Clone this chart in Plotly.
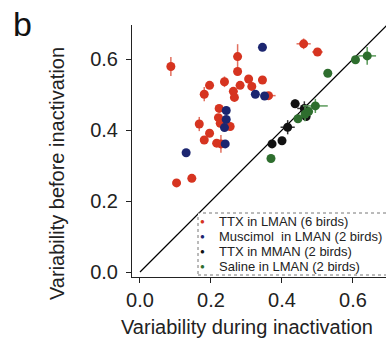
import plotly.graph_objects as go

# ---- data ----
red_x = [0.087, 0.103, 0.146, 0.167, 0.181, 0.181, 0.196, 0.196, 0.221, 0.223, 0.226, 0.216, 0.228,
         0.238, 0.254, 0.263, 0.266, 0.275, 0.275, 0.282, 0.306, 0.315, 0.345, 0.362, 0.461, 0.500]
red_y = [0.579, 0.251, 0.264, 0.417, 0.372, 0.501, 0.526, 0.391, 0.435, 0.461, 0.419, 0.363, 0.361,
         0.536, 0.410, 0.509, 0.492, 0.607, 0.565, 0.526, 0.544, 0.523, 0.541, 0.497, 0.643, 0.620]
red_ex = [0.005, 0, 0, 0, 0, 0, 0, 0, 0, 0, 0, 0, 0, 0, 0, 0, 0, 0, 0, 0, 0, 0, 0, 0.02, 0.02, 0.015]
red_ey = [0.027, 0, 0, 0.02, 0, 0.02, 0, 0, 0, 0, 0, 0, 0.025, 0.015, 0, 0, 0, 0.035, 0, 0, 0, 0, 0, 0, 0.015, 0]

blue_x = [0.130, 0.243, 0.243, 0.238, 0.240, 0.345, 0.325, 0.351]
blue_y = [0.336, 0.455, 0.430, 0.407, 0.361, 0.633, 0.501, 0.496]

black_x = [0.372, 0.400, 0.416, 0.437, 0.463, 0.468]
black_y = [0.361, 0.370, 0.408, 0.474, 0.461, 0.438]
black_ex = [0, 0, 0.02, 0.012, 0.02, 0]
black_ey = [0, 0, 0.02, 0.012, 0.02, 0]

green_x = [0.369, 0.445, 0.465, 0.475, 0.494, 0.529, 0.607, 0.640]
green_y = [0.320, 0.432, 0.445, 0.452, 0.468, 0.560, 0.598, 0.609]
green_ex = [0, 0, 0, 0, 0.035, 0, 0, 0.025]
green_ey = [0, 0, 0.02, 0, 0.02, 0, 0, 0.025]

diag = [0.0, 0.8]
tick_vals = [0.0, 0.2, 0.4, 0.6]
tick_text = ["0.0", "0.2", "0.4", "0.6"]
series_names = ["TTX in LMAN (6 birds)", "Muscimol  in LMAN (2 birds)",
                "TTX in MMAN (2 birds)", "Saline in LMAN (2 birds)"]

colors = ["#d63420", "#1c2670", "#111111", "#2e6e2e"]
err_colors = ["#e2705f", "#4a52a0", "#333333", "#5a9a5a"]
series = [
    (red_x, red_y, red_ex, red_ey),
    (blue_x, blue_y, None, None),
    (black_x, black_y, black_ex, black_ey),
    (green_x, green_y, green_ex, green_ey),
]

FONT = "Arial, Liberation Sans, sans-serif"

fig = go.Figure()
fig.add_trace(go.Scatter(x=diag, y=diag, mode="lines", line=dict(color="black", width=1.2),
                         showlegend=False, hoverinfo="skip"))

for name, (xs, ys, ex, ey), col, ecol in zip(series_names, series, colors, err_colors):
    kw = {}
    if ex is not None:
        kw["error_x"] = dict(type="data", array=ex, visible=True, color=ecol, thickness=1.5, width=0)
        kw["error_y"] = dict(type="data", array=ey, visible=True, color=ecol, thickness=1.5, width=0)
    fig.add_trace(go.Scatter(x=xs, y=ys, mode="markers", name=name, showlegend=False,
                             marker=dict(color=col, size=9, line=dict(width=0)), **kw))

L, R, T, B = 132, 0, 25, 66
W, H = 386, 343
PW, PH = W - L - R, H - T - B

def px(xp):
    return (xp - L) / PW

def py(yp):
    return (H - B - yp) / PH

annotations = [
    dict(text="b", x=px(22), y=py(24), xref="paper", yref="paper", showarrow=False,
         xanchor="center", yanchor="middle", font=dict(size=34, family=FONT, color="#111111")),
    dict(text="Variability before inactivation", x=px(57), y=py(174), xref="paper", yref="paper",
         showarrow=False, textangle=-90, xanchor="center", yanchor="middle",
         font=dict(size=20, family=FONT, color="#222222")),
    dict(text="Variability during inactivation", x=px(247), y=py(327), xref="paper", yref="paper",
         showarrow=False, xanchor="center", yanchor="middle",
         font=dict(size=20, family=FONT, color="#222222")),
]

# legend box (drawn by hand so it can run past the right edge like the original)
legend_rows = [221, 236.5, 251.5, 266.5]
for name, col, row in zip(series_names, colors, legend_rows):
    annotations.append(dict(text="●", x=px(202.5), y=py(row), xref="paper", yref="paper",
                            showarrow=False, xanchor="center", yanchor="middle",
                            font=dict(size=8, family=FONT, color=col)))
    annotations.append(dict(text=name, x=px(217), y=py(row), xref="paper", yref="paper",
                            showarrow=False, xanchor="left", yanchor="middle",
                            font=dict(size=13, family=FONT, color="#222222")))

shapes = [dict(type="rect", xref="paper", yref="paper", x0=px(198), x1=px(390), y0=py(275), y1=py(213),
               line=dict(color="#777777", width=1, dash="dot"), fillcolor="white", layer="above")]

fig.update_layout(
    width=W, height=H,
    margin=dict(l=L, r=R, t=T, b=B),
    paper_bgcolor="white", plot_bgcolor="white",
    font=dict(family=FONT, color="#222222", size=20),
    showlegend=False,
    xaxis=dict(range=[-0.0225, 0.693], showgrid=False, zeroline=False, showline=True,
               linecolor="#222222", linewidth=1, ticks="outside", ticklen=5, tickcolor="#222222",
               tickvals=tick_vals, ticktext=tick_text, tickfont=dict(size=20)),
    yaxis=dict(range=[-0.014, 0.696], showgrid=False, zeroline=False, showline=True,
               linecolor="#222222", linewidth=1, ticks="outside", ticklen=5, tickcolor="#222222",
               tickvals=tick_vals, ticktext=tick_text, tickfont=dict(size=20), ticklabelstandoff=4),
    annotations=annotations,
    shapes=shapes,
)

fig.write_html("out.html")
